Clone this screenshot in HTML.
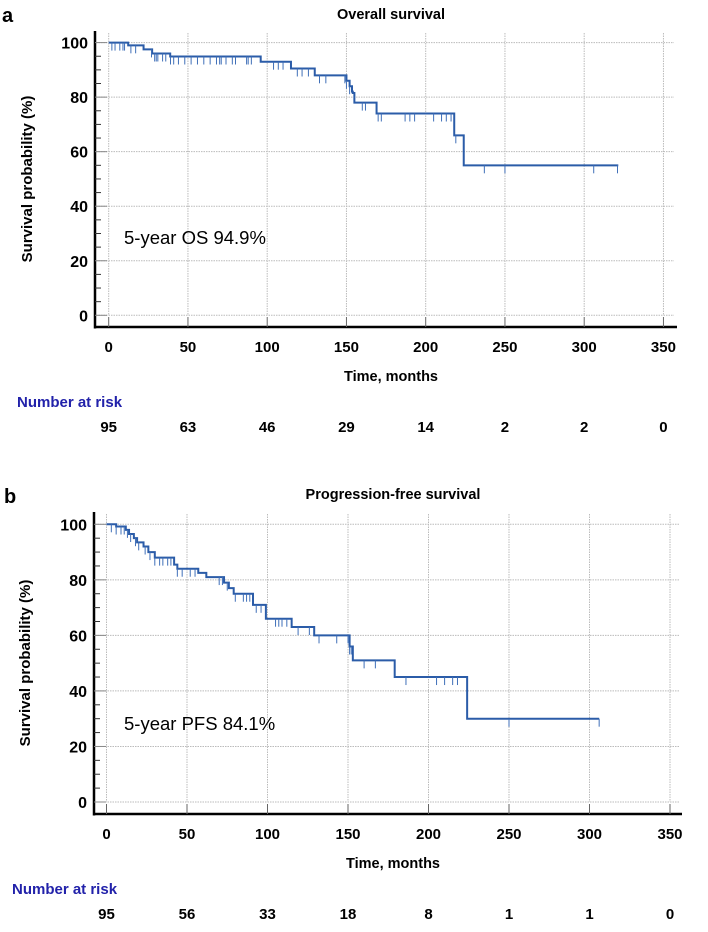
<!DOCTYPE html>
<html><head><meta charset="utf-8"><style>
body{margin:0;background:#fff;}
svg text{font-family:"Liberation Sans",sans-serif;}
</style></head><body>
<svg id="svg" width="708" height="927" viewBox="0 0 708 927" xmlns="http://www.w3.org/2000/svg"></svg>
<script>
const xTicks=[0,50,100,150,200,250,300,350];
const yTicks=[0,20,40,60,80,100];
// OS: step times and survival values
const osTimes=[0,12.3,22,27.4,38.8,95.9,115,130,150,152,153.5,154,155,169,218,224,321.5];
const osValues=[100,99,97.5,96,94.9,93,90.5,88,86,84,82,81.5,78,74,66,55,55];
const osCensor=[2,4,7,9,10,14,17,27,29,30,31,34,36,39,41,44,48,52,56,60,64,68,70,71,74,78,80,87,88,90,104,107,110,119,122,126,133,137,149,150,152,160,162,170,172,187,190,193,205,210,213,216,219,237,250,306,321];
const osRisk=[95,63,46,29,14,2,2,0];
// PFS
const pfsTimes=[0,6,12,14,17,19,23,26,30,42,44,57,62,73,76,79,91,99,115,129,151,153,179,195,224,306];
const pfsValues=[100,99.2,98,96.5,95,93.5,92,90,88,85.5,84,82.5,81,79,77,75,71,66,63,60,56,51,45,45,30,30];
const pfsCensor=[3,6,9,11,13,15,18,20,24,27,30,33,35,38,40,44,47,52,55,70,72,75,80,85,87,89,93,96,105,107,109,112,119,126,132,143,150,151,152,160,167,186,205,210,215,218,250,306];
const pfsRisk=[95,56,33,18,8,1,1,0];

const svg=document.getElementById('svg');
const NS='http://www.w3.org/2000/svg';
function mk(tag,attrs,parent){const e=document.createElementNS(NS,tag);for(const k in attrs)e.setAttribute(k,attrs[k]);(parent||svg).appendChild(e);return e;}

function chart(cfg){
  const g=mk('g',{});
  
  
  const X=t=>cfg.x0+t*cfg.xs, Y=v=>cfg.y0-v*cfg.ys;
  // panel letter & title
  let t=mk('text',{x:cfg.letterX,y:cfg.letterY,'font-family':'Liberation Serif,serif','font-weight':'bold','font-size':20},g);t.textContent=cfg.letter;
  
  t=mk('text',{x:cfg.titleX,y:cfg.titleY,'text-anchor':'middle','font-size':14.5,'font-weight':'bold'},g);t.textContent=cfg.title;
  
  // grid
  for(const v of yTicks){const l=mk('line',{x1:cfg.axL+1,x2:cfg.gridR,y1:Y(v),y2:Y(v),stroke:'#bbb','stroke-width':1,'stroke-dasharray':'1.5,1'},g);
    }
  for(const v of xTicks){const l=mk('line',{x1:X(v),x2:X(v),y1:cfg.top+2,y2:Y(0),stroke:'#bbb','stroke-width':1,'stroke-dasharray':'1.5,1'},g);
    }
  // axes
  let a=mk('line',{x1:cfg.axL,x2:cfg.axL,y1:cfg.top,y2:cfg.axB+1.5,stroke:'#000','stroke-width':2.5},g);
  
  a=mk('line',{x1:cfg.axL-1,x2:cfg.axR,y1:cfg.axB,y2:cfg.axB,stroke:'#000','stroke-width':2.5},g);
  
  for(let v=0;v<=100;v+=5){const major=v%20===0;const l=mk('line',{x1:cfg.axL,x2:cfg.axL+(major?12:6),y1:Y(v),y2:Y(v),stroke:major?'#888':'#333','stroke-width':1},g);
    }
  for(const v of yTicks){const tx=mk('text',{x:cfg.axL-7,y:Y(v)+6,'text-anchor':'end','font-size':16,'font-weight':'bold'},g);tx.textContent=v;
    }
  for(const v of xTicks){const l=mk('line',{x1:X(v),x2:X(v),y1:cfg.axB-10,y2:cfg.axB,stroke:'#666','stroke-width':1},g);
    
    const tx=mk('text',{x:X(v),y:cfg.axB+25,'text-anchor':'middle','font-size':15,'font-weight':'bold'},g);tx.textContent=v;
    }
  t=mk('text',{x:cfg.titleX,y:cfg.axB+54,'text-anchor':'middle','font-size':14.5,'font-weight':'bold'},g);t.textContent='Time, months';
  
  const yc=(cfg.top+cfg.axB)/2;
  t=mk('text',{x:0,y:0,transform:`translate(${cfg.yTitleX},${yc}) rotate(-90)`,'text-anchor':'middle','font-size':15,'font-weight':'bold'},g);t.textContent='Survival probability (%)';
  
  // curve
  let d=`M${X(cfg.times[0])},${Y(cfg.values[0])}`;
  for(let i=1;i<cfg.times.length;i++){d+=`H${X(cfg.times[i])}V${Y(cfg.values[i])}`;}
  const p=mk('path',{d:d,fill:'none',stroke:'#2b5ca8','stroke-width':2},g);
  
  const valAt=tt=>{let v=cfg.values[0];for(let i=0;i<cfg.times.length;i++){if(cfg.times[i]<=tt)v=cfg.values[i];}return v;};
  for(const c of cfg.censor){const v=valAt(c);const l=mk('line',{x1:X(c),x2:X(c),y1:Y(v),y2:Y(v)+8,stroke:'#3f6fb8','stroke-width':1},g);
    }
  t=mk('text',{x:124,y:cfg.annY,'font-size':18.5},g);t.textContent=cfg.ann;
  
  t=mk('text',{x:cfg.riskX,y:cfg.axB+80,'font-size':15,'font-weight':'bold',fill:'#2222aa'},g);t.textContent='Number at risk';
  
  cfg.risk.forEach((r,i)=>{const tx=mk('text',{x:X(xTicks[i]),y:cfg.axB+105,'text-anchor':'middle','font-size':15,'font-weight':'bold'},g);tx.textContent=r;
    });
}
chart({name:'overall-survival-chart',letter:'a',letterX:2,letterY:22,title:'Overall survival',titleX:391,titleY:19,
  x0:108.7,xs:1.585,y0:315.3,ys:2.727,axL:95,axB:327,axR:677,gridR:674,top:31,yTitleX:32,
  times:osTimes,values:osValues,censor:osCensor,risk:osRisk,ann:'5-year OS 94.9%',annY:244,riskX:17});
chart({name:'progression-free-survival-chart',letter:'b',letterX:4,letterY:503,title:'Progression-free survival',titleX:393,titleY:499,
  x0:106.5,xs:1.61,y0:802,ys:2.777,axL:94,axB:814,axR:682,gridR:680,top:512,yTitleX:30,
  times:pfsTimes,values:pfsValues,censor:pfsCensor,risk:pfsRisk,ann:'5-year PFS 84.1%',annY:730,riskX:12});
</script>
</body></html>
